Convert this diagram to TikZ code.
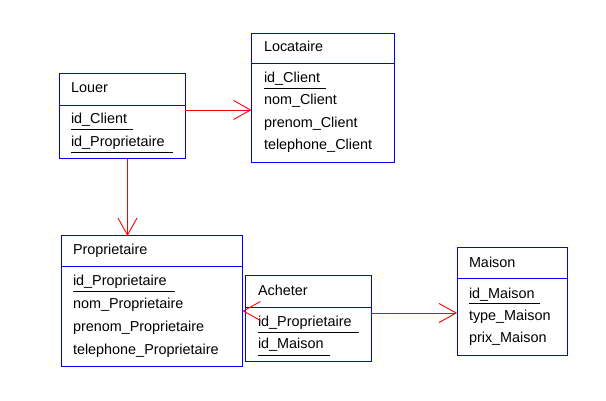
\documentclass[tikz,border=0pt]{standalone}
\usepackage{fontspec}
\setmainfont{Liberation Sans}
\usetikzlibrary{arrows.meta}
\begin{document}
\begin{tikzpicture}[x=1pt,y=-1pt,
  ent/.style={draw=blue, line width=1pt, anchor=north west, inner sep=0pt, outer sep=0pt},
  txt/.style={anchor=base west, inner sep=0pt, outer sep=0pt, font=\fontsize{14.4}{17}\selectfont},
  div/.style={draw=blue, line width=1pt},
  ul/.style={draw=black, line width=1pt},
  rel/.style={draw=red, line width=0.9pt, -{Straight Barb[length=17pt,width=19pt]}}]
\useasboundingbox[fill=white] (0,0) rectangle (606,401);

% Louer
\node[ent, minimum width=126pt, minimum height=85pt] (louer) at (59,74) {};
\draw[div] (louer.west |- 0,106) -- (louer.east |- 0,106);
\node[txt] (louerT) at (71,93) {Louer};
\node[txt] (louerA) at (71,124) {id\_Client};
\draw[ul] (71,130) -- (133,130);
\node[txt] (louerB) at (71,147) {id\_Proprietaire};
\draw[ul] (71,153) -- (173,153);

% Locataire
\node[ent, minimum width=143pt, minimum height=129pt] (locataire) at (251.5,33.5) {};
\draw[div] (locataire.west |- 0,64) -- (locataire.east |- 0,64);
\node[txt] (locT) at (264,52) {Locataire};
\node[txt] (locA) at (264,83) {id\_Client};
\draw[ul] (264,88.5) -- (326,88.5);
\node[txt] (locB) at (264,105) {nom\_Client};
\node[txt] (locC) at (264,127.5) {prenom\_Client};
\node[txt] (locD) at (264,149.5) {telephone\_Client};

% Proprietaire
\node[ent, minimum width=181pt, minimum height=130pt] (prop) at (61.5,236) {};
\draw[div] (prop.west |- 0,267) -- (prop.east |- 0,267);
\node[txt] (propT) at (73,255) {Proprietaire};
\node[txt] (propA) at (73,286) {id\_Proprietaire};
\draw[ul] (73,292) -- (175,292);
\node[txt] (propB) at (73,308.5) {nom\_Proprietaire};
\node[txt] (propC) at (73,331) {prenom\_Proprietaire};
\node[txt] (propD) at (73,354) {telephone\_Proprietaire};

% Acheter
\node[ent, minimum width=126pt, minimum height=85pt] (acheter) at (245,276) {};
\draw[div] (acheter.west |- 0,308) -- (acheter.east |- 0,308);
\node[txt] (achT) at (258,295) {Acheter};
\node[txt] (achA) at (258,326.5) {id\_Proprietaire};
\draw[ul] (258,332.5) -- (359,332.5);
\node[txt] (achB) at (258,348.5) {id\_Maison};
\draw[ul] (258,355) -- (330,355);

% Maison
\node[ent, minimum width=110pt, minimum height=107pt] (maison) at (457,248) {};
\draw[div] (maison.west |- 0,279) -- (maison.east |- 0,279);
\node[txt] (maiT) at (469,267.5) {Maison};
\node[txt] (maiA) at (469,298.5) {id\_Maison};
\draw[ul] (469,303.5) -- (540,303.5);
\node[txt] (maiB) at (469,320.5) {type\_Maison};
\node[txt] (maiC) at (469,342.5) {prix\_Maison};

% relations
\draw[rel] (louer.east |- 0,110) -- (locataire.west |- 0,110);
\draw[rel] (louer.south -| 127.5,0) -- (prop.north -| 127.5,0);
\draw[rel] (acheter.west |- 0,311) -- (prop.east |- 0,311);
\draw[rel] (acheter.east |- 0,313) -- (maison.west |- 0,313);
\end{tikzpicture}
\end{document}
